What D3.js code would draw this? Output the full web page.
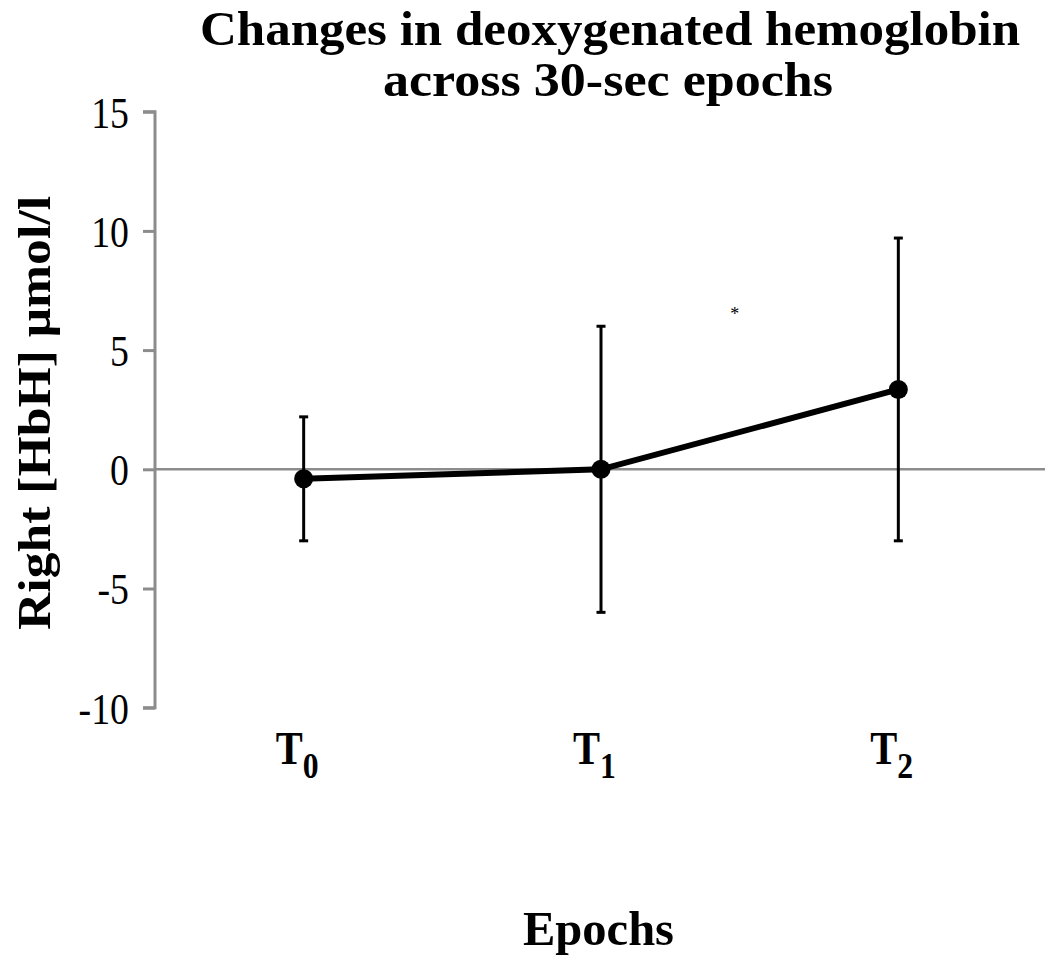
<!DOCTYPE html>
<html><head><meta charset="utf-8">
<script src="https://cdn.jsdelivr.net/npm/d3@7"></script>
<style>html,body{margin:0;padding:0;background:#fff}</style>
</head><body>
<svg id="c" width="1050" height="972"></svg>
<script>
const categories = ["T0", "T1", "T2"];
const subscripts = ["0", "1", "2"];
const means = [-0.4, 0.0, 3.35];
const errLow = [-3.0, -6.0, -3.0];
const errHigh = [2.2, 6.0, 9.7];
const yTicks = [15, 10, 5, 0, -5, -10];
const annotation = {text: "*", between: [1, 2], frac: 0.45, value: 6.6};

const svg = d3.select("#c");
const serif = "'Liberation Serif','Times New Roman',serif";
const gray = "#8c8c8c";
const SX = 0.84;

const x = d3.scalePoint().domain(categories).range([155, 1047]).padding(0.5);
const y = d3.scaleLinear().domain([-10, 15]).range([707.7, 111.7]);

// title
const title = svg.append("g").attr("font-family", serif).attr("font-weight", "bold").attr("font-size", 48).attr("fill", "#000");
title.append("text").attr("x", 200).attr("y", 45).attr("textLength", 820).attr("lengthAdjust", "spacingAndGlyphs").text("Changes in deoxygenated hemoglobin");
title.append("text").attr("x", 383).attr("y", 96).attr("textLength", 450).attr("lengthAdjust", "spacingAndGlyphs").text("across 30-sec epochs");

// y axis
const yAxis = d3.axisLeft(y).tickValues(yTicks).tickSize(12).tickPadding(0).tickFormat(d3.format("d"));
const ga = svg.append("g").attr("transform", "translate(155,0)").call(yAxis);
ga.select(".domain").attr("stroke", gray).attr("stroke-width", 3).attr("d", `M-12,${y(15)}H0V${y(-10)}H-12`);
ga.selectAll(".tick line").attr("stroke", gray).attr("stroke-width", 3);
ga.selectAll(".tick text")
  .attr("font-family", serif).attr("font-size", 45).attr("fill", "#000")
  .attr("x", -26 / SX).attr("dy", "0.34em")
  .attr("transform", `scale(${SX},1)`)
  .text(d => d < 0 ? "-" + Math.abs(d) : d);

// zero line
svg.append("line").attr("x1", 155).attr("x2", 1045).attr("y1", y(0)).attr("y2", y(0))
  .attr("stroke", gray).attr("stroke-width", 2.5);

// y label
svg.append("text").attr("transform", "translate(50,413) rotate(-90)")
  .attr("text-anchor", "middle").attr("font-family", serif).attr("font-weight", "bold").attr("font-size", 47)
  .attr("textLength", 434).attr("lengthAdjust", "spacingAndGlyphs")
  .text("Right [HbH] μmol/l");

// x labels
categories.forEach((c, i) => {
  const t = svg.append("text").attr("transform", `translate(${x(c) - 28},764) scale(0.88,1)`)
    .attr("font-family", serif).attr("font-weight", "bold").attr("fill", "#000");
  t.append("tspan").attr("font-size", 46).text("T");
  t.append("tspan").attr("font-size", 36).attr("dy", 14).text(subscripts[i]);
});

svg.append("text").attr("x", 523).attr("y", 945)
  .attr("font-family", serif).attr("font-weight", "bold").attr("font-size", 49)
  .attr("textLength", 151).attr("lengthAdjust", "spacingAndGlyphs").text("Epochs");

// error bars
const eb = svg.append("g").attr("stroke", "#000").attr("stroke-width", 3);
categories.forEach((c, i) => {
  eb.append("line").attr("x1", x(c)).attr("x2", x(c)).attr("y1", y(errHigh[i])).attr("y2", y(errLow[i]));
  [errHigh[i], errLow[i]].forEach(v => eb.append("line").attr("x1", x(c) - 4.5).attr("x2", x(c) + 4.5).attr("y1", y(v)).attr("y2", y(v)));
});

// line
const data = categories.map((c, i) => ({c, v: means[i]}));
svg.append("path").datum(data).attr("fill", "none").attr("stroke", "#000").attr("stroke-width", 6)
  .attr("d", d3.line().x(d => x(d.c)).y(d => y(d.v)));
svg.selectAll("circle.pt").data(data).enter().append("circle").attr("class", "pt")
  .attr("cx", d => x(d.c)).attr("cy", d => y(d.v)).attr("r", 9.5).attr("fill", "#000");

// annotation
const ax = x(categories[annotation.between[0]]) + annotation.frac * (x(categories[annotation.between[1]]) - x(categories[annotation.between[0]]));
svg.append("text").attr("x", ax).attr("y", y(annotation.value) + 8).attr("text-anchor", "middle")
  .attr("font-family", serif).attr("font-size", 18).text(annotation.text);
</script>
</body></html>
